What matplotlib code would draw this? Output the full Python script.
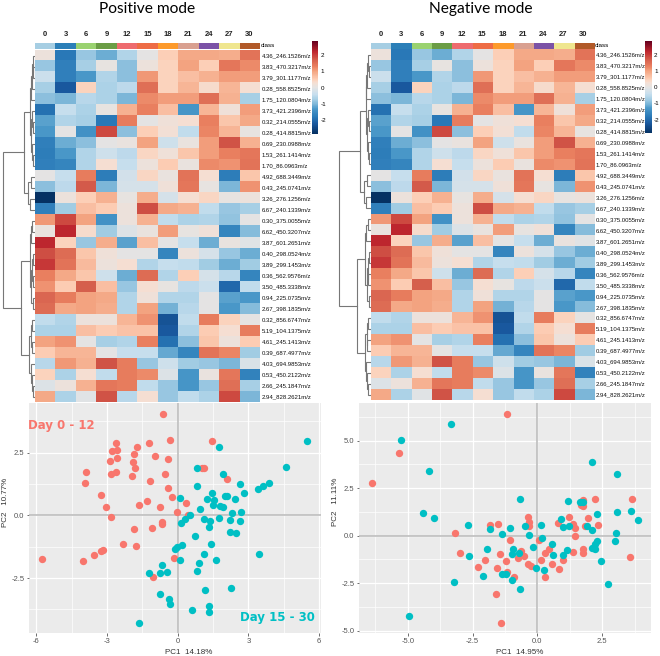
import numpy as np
import matplotlib
matplotlib.use("Agg")
import matplotlib.pyplot as plt
from matplotlib.colors import ListedColormap, LinearSegmentedColormap

W, H = 660, 656

days = ["0", "3", "6", "9", "12", "15", "18", "21", "24", "27", "30"]
class_colors = ["#a6cee3", "#2b7fb8", "#9ad270", "#6b9d45", "#ee6b6e", "#ee6c45",
                "#fd9a2b", "#d9a090", "#7b52a6", "#efe68f", "#b15928"]

features = ["4.36_246.1526m/z", "3.83_470.3217m/z", "3.79_301.1177m/z", "0.28_558.8525m/z",
            "1.75_120.0804m/z", "3.73_421.2396m/z", "0.32_214.0555m/z", "0.28_414.8815m/z",
            "0.69_230.0988m/z", "1.53_261.1414m/z", "1.70_86.0963m/z", "4.92_688.3449m/z",
            "0.43_245.0741m/z", "3.26_276.1256m/z", "6.67_240.1339m/z", "0.30_375.0055m/z",
            "6.62_450.3207m/z", "3.87_601.2651m/z", "0.40_298.0524m/z", "3.89_299.1453m/z",
            "0.36_562.9576m/z", "3.50_485.3338m/z", "0.94_225.0735m/z", "2.67_398.1835m/z",
            "0.32_856.6747m/z", "5.19_104.1375m/z", "4.61_245.1413m/z", "0.39_687.4977m/z",
            "4.03_694.9853m/z", "0.53_450.2122m/z", "2.66_245.1847m/z", "2.94_828.2621m/z"]

heat = [
    [0.15, -1.8, -0.8, -1.1, -0.6, 0.0, 0.5, 0.95, 0.95, 0.9, 1.45],
    [-0.8, -1.7, -0.7, 0.05, -0.9, 0.15, 0.45, 1.0, 0.5, 1.4, 1.2],
    [-0.35, -1.7, -1.3, -0.6, -0.9, 1.1, 0.45, 0.7, 0.85, 1.05, 1.05],
    [-0.7, -2.2, 0.45, -0.65, -0.5, 1.5, 0.45, 0.8, 0.35, 0.8, 0.3],
    [-0.9, -1.0, -0.55, -0.65, -1.0, 1.2, 1.05, 1.05, 1.5, 0.85, -0.7],
    [-1.9, -0.4, -0.65, 0.05, 0.85, 1.3, 0.7, -1.35, 0.8, 0.2, 1.05],
    [-1.2, -0.6, -0.7, -1.8, 1.35, 0.0, 0.2, 0.3, 1.3, 0.6, 0.95],
    [-1.3, 0.0, -1.4, 1.9, -0.9, 0.5, 0.25, -0.45, 1.25, 0.8, 0.05],
    [-1.7, -1.1, -0.9, 0.0, 0.1, 1.0, -0.3, 0.1, 1.05, 1.8, 0.85],
    [-1.75, -1.3, -0.6, -0.3, -0.5, 0.4, 0.2, 0.6, 1.05, 1.3, 1.4],
    [-1.7, -1.6, -0.6, 0.3, -0.4, 0.15, 0.55, 0.1, 1.2, 1.15, 1.45],
    [0.0, -0.4, 1.35, -1.75, -0.25, 0.4, 0.1, 1.45, 0.3, -1.75, 0.6],
    [-0.9, -0.5, 1.75, -1.0, -0.2, -0.2, 0.2, 1.4, 0.05, -1.0, 1.15],
    [-2.8, 0.15, 0.5, 0.85, 0.05, 0.9, -0.2, 0.3, 0.4, 0.05, 0.15],
    [-1.7, -0.75, 0.7, 0.55, 0.15, 1.85, 0.95, 0.85, -0.45, -0.8, -0.7],
    [1.1, 1.9, 1.0, -1.4, 0.15, 0.85, -0.45, -0.65, -0.6, -0.85, 0.0],
    [0.1, 2.2, 0.35, -0.75, -0.1, 0.1, 1.05, 0.05, 0.2, -1.6, -0.95],
    [2.2, 0.45, -0.8, 0.9, -1.2, 0.7, 0.0, -0.4, -1.1, 0.1, -0.05],
    [1.85, 1.55, 0.6, 0.2, 0.0, 0.0, -1.6, 0.15, -0.2, -0.8, -1.1],
    [2.05, 1.45, 0.75, 0.15, 0.3, -0.6, -0.4, -0.45, -0.75, -1.1, -0.75],
    [1.3, 0.95, 0.6, -0.3, -1.1, 1.55, -0.6, 0.5, -0.2, -0.55, -1.6],
    [1.15, 0.55, 1.7, 0.7, -0.8, 0.3, 0.05, -0.5, -0.35, -2.0, -0.45],
    [1.6, 1.35, 1.0, 0.95, -0.6, 0.2, -0.6, -0.6, 0.0, -1.2, -1.3],
    [1.55, 0.95, 1.0, 0.9, -0.6, 1.0, -1.05, -0.55, 0.0, -1.3, -0.95],
    [-0.45, -0.6, 0.15, 0.15, 0.8, 1.15, -2.3, -0.45, 1.35, 0.45, 0.03],
    [-0.65, -0.65, 0.7, 0.55, 0.65, 0.65, -2.2, -0.6, 0.55, 0.3, 1.35],
    [1.0, 1.15, 0.0, -0.7, -0.6, 1.3, -1.9, -0.9, 0.6, 0.15, 0.55],
    [0.55, 0.8, 0.8, 0.0, -0.4, -0.4, -1.15, -1.6, 1.45, 1.25, -0.75],
    [-0.55, 1.1, 0.85, 1.8, 1.35, -0.8, -0.3, -0.75, -0.8, -1.0, -0.15],
    [0.45, -0.65, 0.3, -0.45, 1.35, 1.2, -0.1, -1.35, 0.1, 1.4, -1.65],
    [-0.1, 0.15, 0.85, 1.4, 1.35, -0.45, -0.8, -1.35, -0.8, 1.5, -0.7],
    [0.95, -0.65, -0.05, 1.8, -0.55, 0.3, -0.8, -0.45, -0.65, 1.9, -1.0],
]

# clustering tree: (height, left, right), a plain int is a row of the heatmap
tree = (32,
        (11,
         (5,
          (4.5, (3.5, (2.5, 0, (2, 1, 2)), 3), 4),
          (4, (3, 5, (2, 6, 7)), (3.2, 8, (2, 9, 10)))),
         (7, (4, 11, 12), (5, 13, 14))),
        (14,
         (5.5,
          (4.5, (3, 15, 16), 17),
          (4, (3.2, (2, 18, 19), (2.5, 20, 21)), (2, 22, 23))),
         (6,
          (4, (3, 24, 25), (3.5, 26, 27)),
          (4.5, 28, (3.5, 29, (2.5, 30, 31))))))

pos_red_x = [-0.64, -0.33, 1.47, -1.23, -2.63, -1.71, -2.59, -2.79, -1.84, -0.98, -2.57, -2.87, -0.41,
             -1.88, -1.80, 1.02, 1.12, -3.90, -2.60, -2.84, -0.54, -1.92, 2.08, -1.17, -3.93, -0.41,
             -3.24, -0.25, -1.30, 0.37, -1.64, -3.03, -0.76, -0.03, 0.45, -2.84, -0.66, -0.68, -1.07,
             -1.87, -2.31, -1.78, -3.15, -3.27, -3.56, -0.17, -5.77, -4.00, -1.06]
pos_red_y = [4.04, 2.99, 2.95, 2.87, 2.87, 2.71, 2.60, 2.54, 2.46, 2.36, 2.30, 2.18, 2.26,
             2.12, 1.90, 1.89, 1.87, 1.71, 1.74, 1.63, 1.65, 1.57, 1.43, 1.35, 1.29, 1.10,
             0.82, 0.73, 0.58, 0.50, 0.39, 0.33, 0.32, 0.13, 0.03, -0.05, -0.28, -0.35, -0.49,
             -0.56, -1.13, -1.24, -1.39, -1.43, -1.57, -1.69, -1.73, -1.82, -2.47]
pos_teal_x = [5.50, 1.74, 4.58, 0.83, 1.92, 2.63, 0.83, 3.86, 3.62, 3.41, 2.80, 1.44, 2.01, 2.11, 2.43,
              1.26, 0.11, 1.54, 1.49, 1.80, 1.92, 0.96, 2.31, 2.67, 0.52, 1.10, 1.74, 1.39, 2.22, 2.66,
              0.33, 0.13, 1.33, 2.23, 2.49, 0.75, 1.41, 0.17, -0.01, -0.13, 3.47, 1.10, 1.64, 0.11,
              0.91, -0.65, 0.82, -0.45, -0.76, -1.22, 2.28, 1.15, -0.74, -0.35, -0.31, 1.34, 0.59,
              1.32, -1.64]
pos_teal_y = [2.95, 2.71, 1.94, 1.90, 1.65, 1.24, 1.17, 1.27, 1.17, 1.06, 0.88, 0.88, 0.77, 0.77, 0.66,
              0.64, 0.70, 0.61, 0.41, 0.36, 0.31, 0.25, 0.11, 0.13, 0.03, -0.13, -0.11, -0.24, -0.20, -0.21,
              -0.15, -0.29, -0.46, -0.65, -0.72, -0.84, -1.13, -1.17, -1.26, -1.35, -1.53, -1.55, -1.79, -1.78,
              -1.89, -1.98, -2.22, -2.26, -2.31, -2.31, -2.91, -2.96, -3.12, -3.35, -3.53, -3.61, -3.77,
              -3.85, -4.30]

neg_red_x = [-1.17, -5.32, -6.39, 3.64, 2.21, 1.77, 1.67, 1.74, 1.21, -0.37, 1.95, -0.32, 0.80, -1.52,
             -1.81, -0.32, 1.39, 1.83, 2.33, 1.45, -3.19, 1.44, -1.07, 0.08, 1.76, -0.64, 0.46, 0.30,
             1.38, 1.75, -2.98, -1.45, -0.51, -0.73, 3.56, -2.03, -1.20, 0.14, 1.00, -0.37, -0.24, 0.58,
             -2.28, -1.56, 0.84, -1.18, -0.89, 0.28, -1.58, -1.41]
neg_red_y = [6.40, 4.35, 2.77, 1.91, 1.91, 1.86, 1.60, 1.58, 0.98, 0.96, 0.93, 0.74, 0.67, 0.61,
             0.54, 0.51, 0.60, 0.53, 0.58, 0.39, 0.12, -0.02, -0.23, -0.23, -0.72, -0.81, -0.68, -0.91,
             -0.84, -0.93, -0.91, -0.96, -1.09, -1.18, -1.11, -1.26, -1.35, -1.30, -1.30, -1.49, -1.58, -1.47,
             -1.63, -1.68, -1.74, -1.91, -2.18, -2.18, -3.05, -4.60]
neg_teal_x = [-3.34, -5.27, -4.18, 2.10, 3.08, -0.67, 1.17, 1.63, 1.77, -4.43, -3.97, 3.08, 3.62, 2.28,
              3.86, 0.90, -2.66, -1.81, -1.07, -0.46, 0.13, 0.99, 1.23, 1.93, 2.10, -1.38, -0.32, 3.03,
              0.19, 3.01, 2.28, 2.22, 0.57, -0.17, 2.10, 2.22, -1.93, -0.95, 1.14, -0.99, -0.72, 0.62,
              1.00, -2.62, 2.47, -0.05, 0.27, -1.36, -1.22, -2.08, -0.99, -3.20, -0.66, 2.72, -4.94]
neg_teal_y = [5.88, 5.04, 3.39, 3.89, 3.25, 1.91, 1.84, 1.77, 1.75, 1.19, 0.93, 1.23, 1.30, 1.14,
              0.84, 0.89, 0.56, 0.33, 0.40, 0.51, 0.54, 0.47, 0.51, 0.51, 0.28, 0.07, 0.05, 0.16,
              -0.11, -0.30, -0.26, -0.44, -0.46, -0.61, -0.63, -0.68, -0.68, -0.68, -0.75, -0.95, -0.93, -1.02,
              -1.02, -1.07, -1.32, -1.72, -1.82, -2.00, -2.02, -2.14, -2.35, -2.44, -2.79, -2.54, -4.23]

RED = "#F8766D"
TEAL = "#00BFC4"
FONT = "Liberation Sans"
VMAX = 2.84

plt.rcParams["axes.unicode_minus"] = False

# palette: value, colour
cmap_values = [-2.84, -2.2, -1.8, -1.3, -1.0, -0.7, -0.4, 0.0, 0.3, 0.5, 1.0, 1.3, 1.7, 2.2, 2.84]
cmap_colors = ["#053061", "#1a5aa0", "#2a7ab8", "#4a98c9", "#7fb8d9", "#a8d0e6", "#c8dfee", "#e4e4e4",
               "#f5dfd3", "#fdd0b8", "#f4a582", "#ea8060", "#d6604d", "#c0282f", "#67001f"]
heat_cmap = LinearSegmentedColormap.from_list(
    "heat", [((v + VMAX) / (2 * VMAX), c) for v, c in zip(cmap_values, cmap_colors)])

fig = plt.figure(figsize=(W / 100, H / 100), dpi=100)


def px_axes(left, top, right, bottom):
    # axes from pixel edges, y counted from the top of the image
    return fig.add_axes([left / W, 1 - bottom / H, (right - left) / W, (bottom - top) / H])


def draw_tree(ax, node):
    # returns (row position, height) of the node
    if isinstance(node, int):
        return node, 0
    h, a, b = node
    ya, ha = draw_tree(ax, a)
    yb, hb = draw_tree(ax, b)
    ax.plot([ha, h, h, hb], [ya, ya, yb, yb], color="#777777", lw=0.8, solid_joinstyle="miter")
    return (ya + yb) / 2, h


def heat_panel(left, right, top, bottom, cb_left, cb_right, cb_bottom):
    data = np.array(heat)

    # class colour strip
    ax = px_axes(left, 42.7, right, 48.7)
    ax.imshow(np.arange(len(days))[None, :], cmap=ListedColormap(class_colors), aspect="auto")
    ax.set_yticks([])
    ax.set_xticks(range(len(days)))
    ax.set_xticklabels(days, fontsize=5.5, fontweight="bold", family=FONT, color="#222222")
    ax.xaxis.tick_top()
    ax.tick_params(axis="x", length=0, pad=3.5)
    for s in ax.spines.values():
        s.set_visible(False)
    ax.text(1.004, 0.5, "class", transform=ax.transAxes, fontsize=4.5, family=FONT,
            va="center", ha="left")

    ax = px_axes(left, top, right, bottom)
    im = ax.imshow(data, cmap=heat_cmap, vmin=-VMAX, vmax=VMAX, aspect="auto", interpolation="nearest")
    ax.set_xticks([])
    ax.yaxis.tick_right()
    ax.set_yticks(range(len(features)))
    ax.set_yticklabels(features, fontsize=4.3, family=FONT, color="#111111")
    ax.tick_params(axis="y", length=0, pad=1.2)
    for s in ax.spines.values():
        s.set_visible(False)

    # dendrogram on the left of the heatmap
    ax = px_axes(left - 35, top, left, bottom)
    draw_tree(ax, tree)
    ax.set_xlim(35, 0)
    ax.set_ylim(len(features) - 0.5, -0.5)
    ax.axis("off")

    cax = px_axes(cb_left, 41.3, cb_right, cb_bottom)
    cb = fig.colorbar(im, cax=cax, ticks=[-2, -1, 0, 1, 2])
    cb.ax.tick_params(labelsize=4.5, length=0, pad=1.5)
    cb.outline.set_visible(False)
    for label in cb.ax.get_yticklabels():
        label.set_family(FONT)


def minor_between(ticks, low, high):
    # ggplot style minor grid, halfway between the labelled breaks
    step = ticks[1] - ticks[0]
    mids = [t + step / 2 for t in ticks] + [ticks[0] - step / 2]
    return [m for m in mids if low < m < high]


def pca_panel(left, right, xlim, ylim, xticks, yticks, xlabels, ylabels,
              red_x, red_y, teal_x, teal_y, xname, yname, xname_px):
    ax = px_axes(left, 403.3, right, 633)
    ax.set_facecolor("#EBEBEB")
    for s in ax.spines.values():
        s.set_visible(False)
    ax.set_xticks(xticks)
    ax.set_yticks(yticks)
    ax.set_xticklabels(xlabels)
    ax.set_yticklabels(ylabels)
    ax.set_xticks(minor_between(xticks, *xlim), minor=True)
    ax.set_yticks(minor_between(yticks, *ylim), minor=True)
    ax.set_xlim(xlim)
    ax.set_ylim(ylim)
    ax.grid(which="major", color="white", lw=0.9)
    ax.grid(which="minor", color="white", lw=0.5)
    ax.tick_params(which="minor", length=0)
    ax.tick_params(which="major", length=1.8, width=0.6, color="#555555", labelcolor="#555555",
                   labelsize=5.5, pad=1.5)
    ax.set_axisbelow(True)
    ax.axhline(0, color="#BDBDBD", lw=1.2, zorder=1)
    ax.axvline(0, color="#BDBDBD", lw=1.2, zorder=1)
    ax.scatter(red_x, red_y, s=28, color=RED, linewidths=0, zorder=3)
    ax.scatter(teal_x, teal_y, s=28, color=TEAL, linewidths=0, zorder=3)
    ax.set_xlabel(xname, fontsize=5.8, family=FONT, color="#333333")
    ax.set_ylabel(yname, fontsize=5.8, family=FONT, color="#333333")
    ax.xaxis.set_label_coords(xname_px / W, 1 - 649.5 / H, transform=fig.transFigure)
    ax.yaxis.set_label_coords((left - 20) / W, 1 - 502 / H, transform=fig.transFigure)
    for label in ax.get_xticklabels() + ax.get_yticklabels():
        label.set_family(FONT)
    return ax


fig.text(147 / W, 1 - 9 / H, "Positive mode", fontsize=11.2, family="Lato", ha="center", va="center")
fig.text(481 / W, 1 - 9 / H, "Negative mode", fontsize=11.2, family="Lato", ha="center", va="center")

heat_panel(35, 259.7, 50, 402.3, 311.7, 318.3, 134)
heat_panel(370.7, 593.7, 49.3, 400, 645, 652, 133.3)

ax1 = pca_panel(29, 321, (-6.31, 6.08), (-4.69, 4.46), [-6, -3, 0, 3, 6], [-2.5, 0, 2.5],
                ["-6", "-3", "0", "3", "6"], ["-2.5", "0.0", "2.5"],
                pos_red_x, pos_red_y, pos_teal_x, pos_teal_y, "PC1  14.18%", "PC2   10.77%", 189)
ax1.text(28.5 / W, 1 - 425 / H, "Day 0 - 12", transform=fig.transFigure, color=RED, fontsize=8.5,
         fontweight="bold", family="DejaVu Sans", va="center", zorder=5)
ax1.text(315 / W, 1 - 617 / H, "Day 15 - 30", transform=fig.transFigure, color=TEAL, fontsize=8.5,
         fontweight="bold", family="DejaVu Sans", va="center", ha="right", zorder=5)

pca_panel(359, 651, (-6.88, 4.38), (-5.12, 6.97), [-5, -2.5, 0, 2.5], [-5, -2.5, 0, 2.5, 5],
          ["-5.0", "-2.5", "0.0", "2.5"], ["-5.0", "-2.5", "0.0", "2.5", "5.0"],
          neg_red_x, neg_red_y, neg_teal_x, neg_teal_y, "PC1  14.95%", "PC2   11.11%", 520)

fig.savefig("out.png", dpi=100)
